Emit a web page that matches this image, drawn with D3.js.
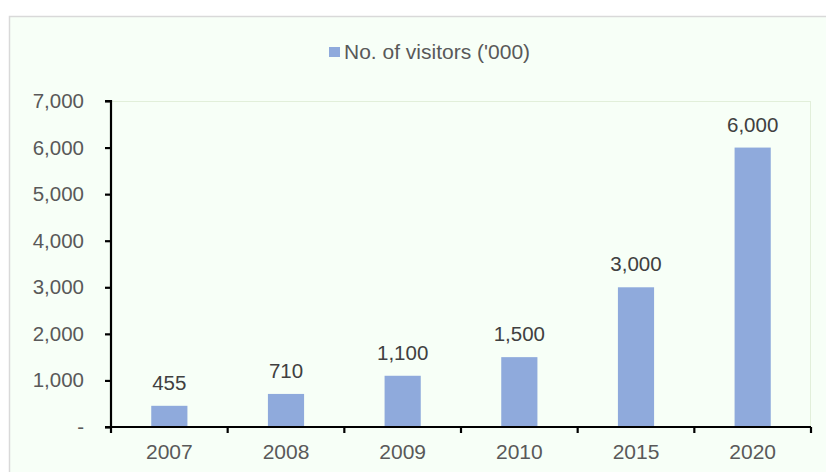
<!DOCTYPE html>
<html>
<head>
<meta charset="utf-8">
<script src="https://cdn.jsdelivr.net/npm/d3@7"></script>
<style>
  html, body { margin: 0; padding: 0; background: #ffffff; }
  svg { display: block; font-family: Arial, "Liberation Sans", sans-serif; }
</style>
</head>
<body>
<svg id="chart" width="826" height="472"></svg>
<script>
// Visitor numbers by year (thousands)
const years = ["2007", "2008", "2009", "2010", "2015", "2020"];
const visitors = [455, 710, 1100, 1500, 3000, 6000];
const yTicks = [0, 1000, 2000, 3000, 4000, 5000, 6000, 7000];
const seriesName = "No. of visitors ('000)";

const W = 826, H = 472;
const svg = d3.select("#chart");
const plot = { left: 111, right: 811, top: 101, bottom: 427 };
const barColor = "#8faadc";
const textColor = "#595959";
const fmt = d3.format(",");

// chart background and frame
svg.append("rect")
  .attr("x", 9.5).attr("y", 16.5)
  .attr("width", W).attr("height", H)
  .attr("fill", "#f7fff7")
  .attr("stroke", "#d9d9d9").attr("stroke-width", 1.5);

// plot area frame
svg.append("rect")
  .attr("x", plot.left).attr("y", plot.top + 0.5)
  .attr("width", plot.right - plot.left - 0.5)
  .attr("height", plot.bottom - plot.top)
  .attr("fill", "none")
  .attr("stroke", "#e2efda").attr("stroke-width", 1);

const x = d3.scaleBand().domain(years).range([plot.left, plot.right]).paddingInner(0.69).paddingOuter(0.345);
const xCat = d3.scaleBand().domain(years).range([plot.left, plot.right]);
const y = d3.scaleLinear().domain([0, 7000]).range([plot.bottom, plot.top]);

// bars
svg.append("g").selectAll("rect")
  .data(years)
  .join("rect")
  .attr("x", (d) => x(d))
  .attr("width", x.bandwidth())
  .attr("y", (d, i) => y(visitors[i]))
  .attr("height", (d, i) => plot.bottom - y(visitors[i]))
  .attr("fill", barColor);

// value labels
svg.append("g").selectAll("text")
  .data(years)
  .join("text")
  .attr("x", (d) => x(d) + x.bandwidth() / 2)
  .attr("y", (d, i) => y(visitors[i]) - 16)
  .attr("text-anchor", "middle")
  .attr("font-size", 20.5)
  .attr("fill", "#404040")
  .text((d, i) => fmt(visitors[i]));

// y axis
const yAxis = d3.axisLeft(y)
  .tickValues(yTicks)
  .tickSize(6)
  .tickPadding(21)
  .tickFormat((d) => d === 0 ? "-" : fmt(d));
const gy = svg.append("g").attr("transform", `translate(${plot.left},0)`).call(yAxis);
gy.select(".domain").attr("stroke", "#000").attr("stroke-width", 2.2).attr("d", `M-6,${plot.top}H0V${plot.bottom}`);
gy.selectAll(".tick line").attr("stroke", "#000").attr("stroke-width", 2.2);
gy.selectAll(".tick text").attr("font-size", 20.5).attr("fill", textColor).attr("font-family", "Arial, 'Liberation Sans', sans-serif");

// x axis with ticks at category boundaries
const gx = svg.append("g").attr("transform", `translate(0,${plot.bottom})`);
gx.append("line")
  .attr("x1", plot.left - 6).attr("x2", plot.right)
  .attr("stroke", "#000").attr("stroke-width", 2.2);
const bounds = years.map((d) => xCat(d)).concat([plot.right]);
gx.selectAll("line.tick")
  .data(bounds)
  .join("line")
  .attr("class", "tick")
  .attr("x1", (d) => d).attr("x2", (d) => d)
  .attr("y1", 0).attr("y2", 6)
  .attr("stroke", "#000").attr("stroke-width", 2.2);
gx.selectAll("text")
  .data(years)
  .join("text")
  .attr("x", (d) => xCat(d) + xCat.bandwidth() / 2)
  .attr("y", 32)
  .attr("text-anchor", "middle")
  .attr("font-size", 21)
  .attr("fill", textColor)
  .text((d) => d);

// legend
const lg = svg.append("g");
lg.append("rect")
  .attr("x", 329).attr("y", 47)
  .attr("width", 11).attr("height", 10)
  .attr("fill", barColor);
lg.append("text")
  .attr("x", 344).attr("y", 59)
  .attr("font-size", 21)
  .attr("fill", textColor)
  .text(seriesName);
</script>
</body>
</html>
